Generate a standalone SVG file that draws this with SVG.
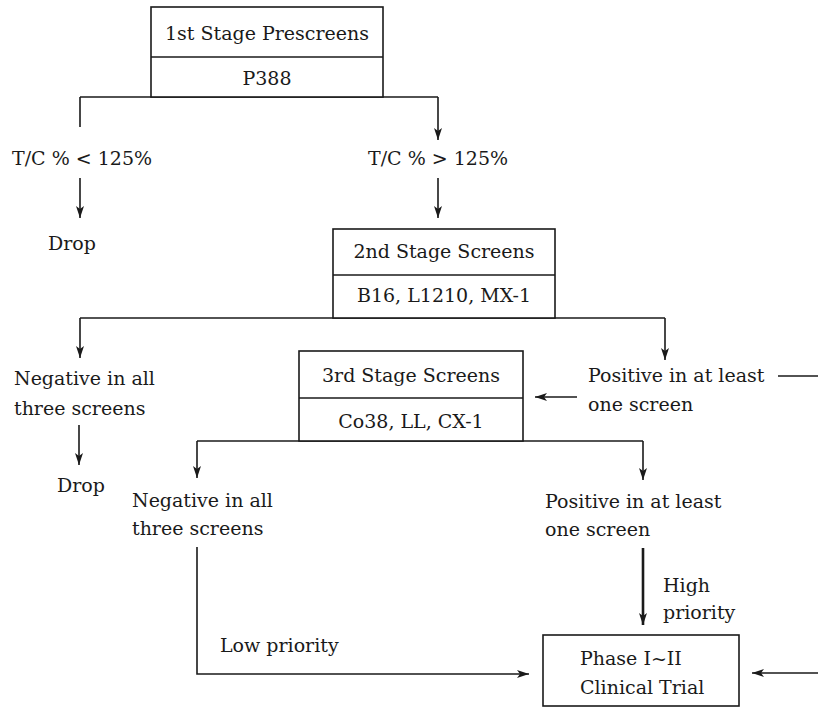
<svg xmlns="http://www.w3.org/2000/svg" width="818" height="708" viewBox="0 0 818 708">
<style>
text{font-family:"DejaVu Serif","Liberation Serif",serif;font-size:19px;fill:#1a1a1a}
.c{text-anchor:middle}
.box{fill:#fff;stroke:#1a1a1a;stroke-width:1.6}
.ln{fill:none;stroke:#1a1a1a;stroke-width:1.6}
.thick{fill:none;stroke:#1a1a1a;stroke-width:2.6}
</style>
<defs>
<marker id="ah" markerUnits="userSpaceOnUse" markerWidth="12" markerHeight="10" viewBox="0 0 12 10" refX="12" refY="5" orient="auto">
<path d="M0,1 L12,5 L0,9 L3,5 Z" fill="#1a1a1a"/>
</marker>
</defs>
<g id="connectors">
<path class="ln" d="M80,97 H438 M80,97 V127"/>
<path class="ln" d="M438,97 V140" marker-end="url(#ah)"/>
<path class="ln" d="M80,178 V218" marker-end="url(#ah)"/>
<path class="ln" d="M438,178 V218" marker-end="url(#ah)"/>
<path class="ln" d="M80,318 H665"/>
<path class="ln" d="M80,318 V358" marker-end="url(#ah)"/>
<path class="ln" d="M665,318 V360" marker-end="url(#ah)"/>
<path class="ln" d="M79,425 V465" marker-end="url(#ah)"/>
<path class="ln" d="M778,376 H818"/>
<path class="ln" d="M577,397 H535" marker-end="url(#ah)"/>
<path class="ln" d="M197,441 H643"/>
<path class="ln" d="M197,441 V478" marker-end="url(#ah)"/>
<path class="ln" d="M643,441 V480" marker-end="url(#ah)"/>
<path class="ln" d="M197,547 V674 H529" marker-end="url(#ah)"/>
<path class="thick" d="M643,548 V625" marker-end="url(#ah)"/>
<path class="ln" d="M818,673 H752" marker-end="url(#ah)"/>
</g>
<g id="stage1">
<rect class="box" x="151" y="7" width="232" height="90"/>
<line class="ln" x1="151" y1="57" x2="383" y2="57"/>
<text class="c" x="267" y="40">1st Stage Prescreens</text>
<text class="c" x="267" y="85">P388</text>
</g>
<g id="tc-low"><text x="12" y="165">T/C % &lt; 125%</text></g>
<g id="tc-high"><text x="368" y="165">T/C % &gt; 125%</text></g>
<g id="drop1"><text x="48" y="250">Drop</text></g>
<g id="stage2">
<rect class="box" x="333" y="229" width="222" height="89"/>
<line class="ln" x1="333" y1="275" x2="555" y2="275"/>
<text class="c" x="444" y="258">2nd Stage Screens</text>
<text class="c" x="444" y="302">B16, L1210, MX-1</text>
</g>
<g id="neg2">
<text x="14" y="385">Negative in all</text>
<text x="14" y="415">three screens</text>
</g>
<g id="drop2"><text x="57" y="492">Drop</text></g>
<g id="pos2">
<text x="588" y="382">Positive in at least</text>
<text x="588" y="411">one screen</text>
</g>
<g id="stage3">
<rect class="box" x="299" y="351" width="224" height="90"/>
<line class="ln" x1="299" y1="398" x2="523" y2="398"/>
<text class="c" x="411" y="382">3rd Stage Screens</text>
<text class="c" x="411" y="428">Co38, LL, CX-1</text>
</g>
<g id="neg3">
<text x="132" y="507">Negative in all</text>
<text x="132" y="535">three screens</text>
</g>
<g id="pos3">
<text x="545" y="508">Positive in at least</text>
<text x="545" y="536">one screen</text>
</g>
<g id="low"><text x="220" y="652">Low priority</text></g>
<g id="high">
<text x="663" y="592">High</text>
<text x="663" y="619">priority</text>
</g>
<g id="phase">
<rect class="box" x="543" y="635" width="196" height="71"/>
<text x="580" y="665">Phase I~II</text>
<text x="580" y="694">Clinical Trial</text>
</g>
</svg>
